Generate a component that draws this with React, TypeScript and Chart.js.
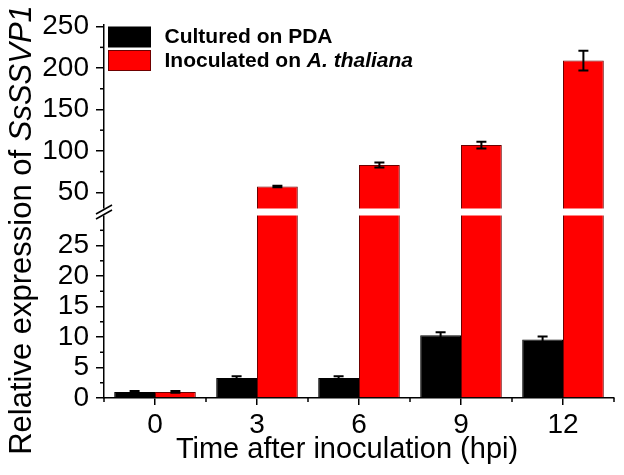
import React, { useEffect, useRef } from 'react';
import { Chart, registerables } from 'chart.js';

Chart.register(...registerables);

const categories = ['0', '3', '6', '9', '12'];
const culturedValues = [1.0, 3.3, 3.3, 10.3, 9.6];
const culturedErrors = [0.15, 0.25, 0.25, 0.5, 0.5];
const inoculatedValues = [1.0, 57, 83, 107, 209];
const inoculatedErrors = [0.15, 1, 3, 4, 12];
const lowerTicks = [0, 5, 10, 15, 20, 25];
const lowerMinorTicks = [2.5, 7.5, 12.5, 17.5, 22.5, 27.5];
const upperTicks = [50, 100, 150, 200, 250];
const upperMinorTicks = [75, 125, 175, 225];
const legendCultured = 'Cultured on PDA';
const legendInoculated = 'Inoculated on ';
const legendSpecies = 'A. thaliana';
const yTitleMain = 'Relative expression of ';
const yTitleGene = 'SsSSVP1';
const xTitle = 'Time after inoculation (hpi)';

const LOWER_MAX = 30.5;
const UPPER_MIN = 26.2;
const UPPER_MAX = 252;

const FONT = "'Liberation Sans', Arial, Helvetica, sans-serif";
const RED = '#ff0000';
const RED_EDGE = '#6e0000';

const decorPlugin = {
  id: 'brokenAxisDecor',
  afterDraw(chart: any) {
    const { ctx, chartArea, scales } = chart;
    const yLow = scales.yLow;
    const yHigh = scales.yHigh;
    const left = chartArea.left;
    const right = chartArea.right;
    const bottom = chartArea.bottom;
    const breakY = yLow.top;
    const mapY = (v: number) => (v <= LOWER_MAX ? yLow.getPixelForValue(v) : yHigh.getPixelForValue(v));

    ctx.save();
    // white band through the bars
    ctx.fillStyle = '#ffffff';
    ctx.fillRect(left + 1, breakY - 3.5, right - left, 7);
    // gap on axis
    ctx.fillRect(left - 2, breakY - 3.5, 4, 7);
    ctx.strokeStyle = '#000';
    ctx.lineWidth = 1.5;
    [breakY - 2.5, breakY + 2.5].forEach((cy) => {
      ctx.beginPath();
      ctx.moveTo(left - 8, cy + 4.5);
      ctx.lineTo(left + 8, cy - 4.5);
      ctx.stroke();
    });

    // minor ticks y
    ctx.lineWidth = 1.5;
    lowerMinorTicks.forEach((v) => {
      const py = yLow.getPixelForValue(v);
      ctx.beginPath();
      ctx.moveTo(left, py);
      ctx.lineTo(left - 4, py);
      ctx.stroke();
    });
    upperMinorTicks.forEach((v) => {
      const py = yHigh.getPixelForValue(v);
      ctx.beginPath();
      ctx.moveTo(left, py);
      ctx.lineTo(left - 4, py);
      ctx.stroke();
    });
    // minor ticks x
    const n = categories.length;
    for (let i = 0; i <= n; i++) {
      const px = left + (i * (right - left)) / n;
      ctx.beginPath();
      ctx.moveTo(px, bottom);
      ctx.lineTo(px, bottom + 4);
      ctx.stroke();
    }

    // error bars
    const groups: [number, number[], number[]][] = [
      [0, culturedValues, culturedErrors],
      [1, inoculatedValues, inoculatedErrors],
    ];
    ctx.strokeStyle = '#000';
    ctx.lineWidth = 2;
    groups.forEach(([di, vals, errs]) => {
      const meta = chart.getDatasetMeta(di);
      vals.forEach((v, i) => {
        const el = meta.data[i];
        if (!el) return;
        const cx = el.x;
        const top = mapY(v + errs[i]);
        const bot = mapY(v - errs[i]);
        ctx.beginPath();
        ctx.moveTo(cx, top);
        ctx.lineTo(cx, bot);
        ctx.moveTo(cx - 5, top);
        ctx.lineTo(cx + 5, top);
        ctx.moveTo(cx - 5, bot);
        ctx.lineTo(cx + 5, bot);
        ctx.stroke();
      });
    });

    // legend
    const bx = left + 4.5;
    const bw = 42;
    const bh = 20;
    ctx.lineWidth = 1;
    ctx.fillStyle = '#000';
    ctx.fillRect(bx, 27, bw, bh);
    ctx.strokeStyle = '#000';
    ctx.strokeRect(bx, 27, bw, bh);
    ctx.fillStyle = RED;
    ctx.fillRect(bx, 50.5, bw, bh);
    ctx.strokeStyle = RED_EDGE;
    ctx.strokeRect(bx, 50.5, bw, bh);

    ctx.fillStyle = '#000';
    ctx.textBaseline = 'middle';
    ctx.textAlign = 'left';
    ctx.font = `bold 21px ${FONT}`;
    const tx = bx + bw + 14;
    ctx.fillText(legendCultured, tx, 37.5);
    ctx.fillText(legendInoculated, tx, 61);
    const w1 = ctx.measureText(legendInoculated).width;
    ctx.font = `italic bold 21px ${FONT}`;
    ctx.fillText(legendSpecies, tx + w1, 61);

    // x title
    ctx.font = `29px ${FONT}`;
    ctx.textAlign = 'center';
    ctx.textBaseline = 'alphabetic';
    ctx.fillText(xTitle, (left + right) / 2 - 12, 458);

    // y title
    ctx.translate(31, 230);
    ctx.rotate(-Math.PI / 2);
    ctx.textAlign = 'left';
    ctx.font = `31px ${FONT}`;
    const wm = ctx.measureText(yTitleMain).width;
    ctx.font = `italic 31px ${FONT}`;
    const wg = ctx.measureText(yTitleGene).width;
    const start = -(wm + wg) / 2;
    ctx.font = `31px ${FONT}`;
    ctx.fillText(yTitleMain, start, 0);
    ctx.font = `italic 31px ${FONT}`;
    ctx.fillText(yTitleGene, start + wm, 0);
    ctx.restore();
  },
};

export default function App() {
  const ref = useRef<HTMLCanvasElement | null>(null);

  useEffect(() => {
    if (!ref.current) return;
    const common = {
      borderWidth: 1,
      clip: 0,
      categoryPercentage: 0.8,
      barPercentage: 1.0,
    };
    const chart = new Chart(ref.current, {
      type: 'bar',
      data: {
        labels: categories,
        datasets: [
          { ...common, label: legendCultured, data: culturedValues, yAxisID: 'yLow', stack: 'a', backgroundColor: '#000', borderColor: '#000' },
          { ...common, label: legendInoculated + legendSpecies, data: inoculatedValues, yAxisID: 'yLow', stack: 'b', backgroundColor: RED, borderColor: RED_EDGE },
          { ...common, label: legendCultured + ' (upper)', data: culturedValues, yAxisID: 'yHigh', stack: 'a', backgroundColor: '#000', borderColor: '#000' },
          { ...common, label: legendInoculated + legendSpecies + ' (upper)', data: inoculatedValues, yAxisID: 'yHigh', stack: 'b', backgroundColor: RED, borderColor: RED_EDGE },
        ] as any,
      },
      options: {
        responsive: true,
        maintainAspectRatio: false,
        animation: false,
        layout: { padding: { top: 25, right: 10, left: 0, bottom: 0 } },
        plugins: { legend: { display: false }, tooltip: { enabled: false } },
        scales: {
          x: {
            type: 'category',
            offset: true,
            grid: { offset: false, drawOnChartArea: false, tickLength: 7, color: '#000', lineWidth: 1.5 },
            border: { color: '#000', width: 1.5 },
            ticks: { font: { size: 28, family: FONT }, color: '#000', padding: 3, maxRotation: 0, autoSkip: false },
            afterFit: (s: any) => { s.height = 77; },
          },
          yHigh: {
            type: 'linear',
            position: 'left',
            stack: 'yy',
            stackWeight: 187,
            weight: 2,
            stacked: false,
            min: UPPER_MIN,
            max: UPPER_MAX,
            grid: { drawOnChartArea: false, tickLength: 8, color: '#000', lineWidth: 1.5 },
            border: { color: '#000', width: 1.5 },
            ticks: { font: { size: 28, family: FONT }, color: '#000', padding: 7, autoSkip: false },
            afterBuildTicks: (s: any) => { s.ticks = upperTicks.map((v) => ({ value: v })); },
            afterFit: (s: any) => { s.width = 104; },
          },
          yLow: {
            type: 'linear',
            position: 'left',
            stack: 'yy',
            stackWeight: 186,
            weight: 1,
            stacked: false,
            min: 0,
            max: LOWER_MAX,
            grid: { drawOnChartArea: false, tickLength: 8, color: '#000', lineWidth: 1.5 },
            border: { color: '#000', width: 1.5 },
            ticks: { font: { size: 28, family: FONT }, color: '#000', padding: 7, autoSkip: false },
            afterBuildTicks: (s: any) => { s.ticks = lowerTicks.map((v) => ({ value: v })); },
            afterFit: (s: any) => { s.width = 104; },
          },
        } as any,
      },
      plugins: [decorPlugin],
    });
    return () => chart.destroy();
  }, []);

  return (
    <div style={{ position: 'fixed', left: 0, top: 0, width: 624, height: 475, background: '#fff' }}>
      <canvas ref={ref} />
    </div>
  );
}
